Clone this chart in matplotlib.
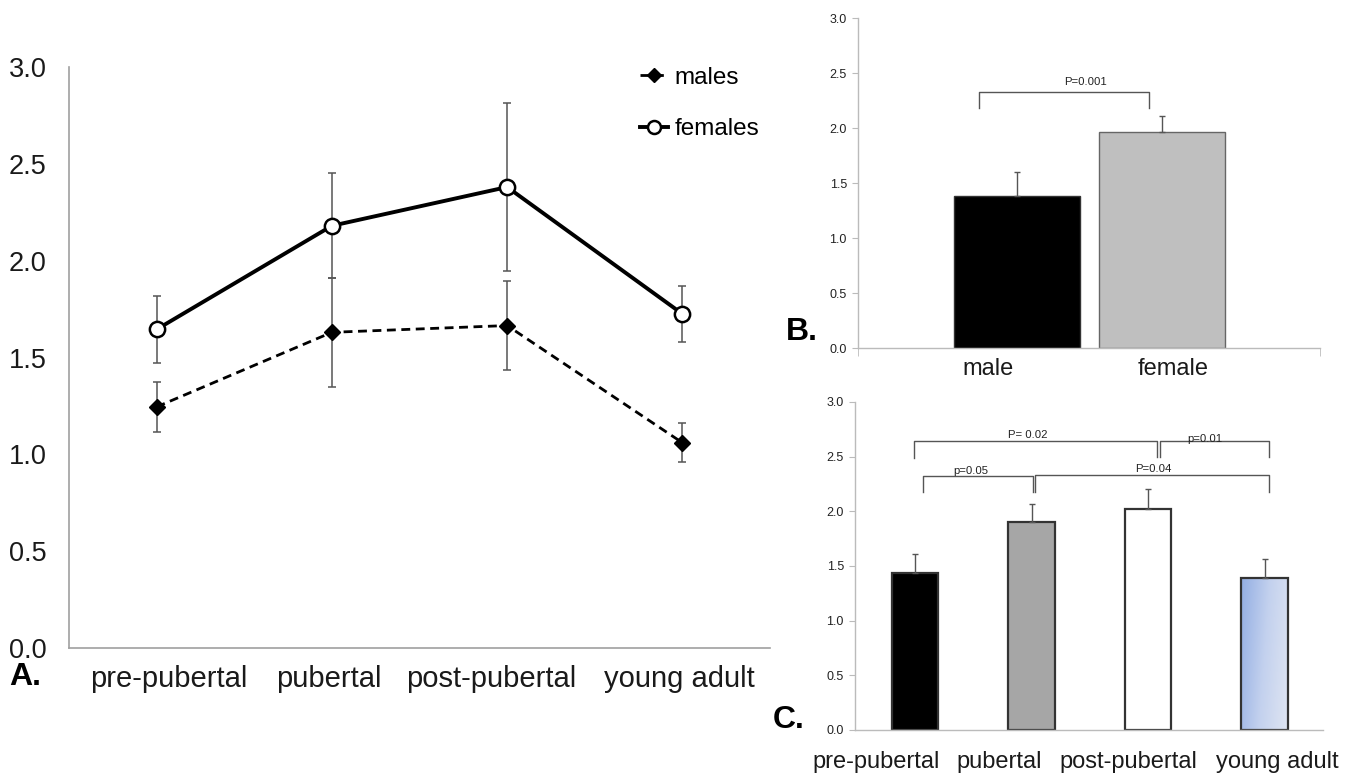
import numpy as np
import matplotlib
matplotlib.use("Agg")
import matplotlib.pyplot as plt
from matplotlib.colors import LinearSegmentedColormap

plt.rcParams['font.family'] = ['Liberation Sans', 'DejaVu Sans']

# ---------------- data ----------------
stages = ["pre-pubertal", "pubertal", "post-pubertal", "young adult"]
males_mean = [1.245, 1.63, 1.665, 1.06]
males_err = [0.13, 0.28, 0.23, 0.10]
females_mean = [1.645, 2.18, 2.38, 1.725]
females_err = [0.175, 0.27, 0.435, 0.145]

sex_labels = ["male", "female"]
sex_mean = [1.385, 1.965]
sex_err = [0.215, 0.145]

stage_mean = [1.44, 1.90, 2.025, 1.39]
stage_err = [0.17, 0.17, 0.175, 0.17]

AX_GRAY = "#a0a0a0"
ERR_GRAY = "#555555"

fig = plt.figure(figsize=(13.6, 7.76), dpi=100)

# ---------------- Panel A ----------------
axA = fig.add_axes([0.0507, 0.1649, 0.5155, 0.7488])
x = np.arange(len(stages))
axA.errorbar(x, females_mean, yerr=females_err, fmt='none', ecolor=ERR_GRAY,
             elinewidth=1.1, capsize=3, capthick=1.1, zorder=2)
axA.errorbar(x, males_mean, yerr=males_err, fmt='none', ecolor=ERR_GRAY,
             elinewidth=1.1, capsize=3, capthick=1.1, zorder=2)
axA.plot(x, males_mean, linestyle=(0, (3.2, 2.0)), color='black', lw=2.0,
         marker='D', markersize=8.5, markerfacecolor='black',
         markeredgecolor='black', label='males', zorder=3)
axA.plot(x, females_mean, linestyle='-', color='black', lw=2.8,
         marker='o', markersize=11, markerfacecolor='white',
         markeredgecolor='black', markeredgewidth=1.8, label='females', zorder=3)
axA.set_xlim(-0.5, 3.5)
axA.set_ylim(0, 3.0)
axA.set_yticks(np.arange(0, 3.01, 0.5))
axA.set_yticklabels([f"{v:.1f}" for v in np.arange(0, 3.01, 0.5)])
axA.set_xticks(x + np.array([0.07, -0.02, -0.09, -0.02]))
axA.set_xticklabels(stages)
for s in ['top', 'right']:
    axA.spines[s].set_visible(False)
for s in ['left', 'bottom']:
    axA.spines[s].set_color(AX_GRAY)
    axA.spines[s].set_linewidth(1.2)
axA.tick_params(axis='y', length=0, pad=16, labelsize=19.5, labelcolor='#1a1a1a')
axA.tick_params(axis='x', length=0, pad=12, labelsize=21, labelcolor='#1a1a1a')
leg = axA.legend(loc='upper left', bbox_to_anchor=(0.814, 1.0), frameon=False,
                 fontsize=17.5, handlelength=1.15, handletextpad=0.3,
                 labelspacing=1.2, borderpad=0, borderaxespad=0, numpoints=1,
                 markerscale=0.85)
fig.text(0.007, 0.127, "A.", fontsize=23, fontweight='bold', va='center', ha='left')

# ---------------- Panel B ----------------
axB = fig.add_axes([0.6309, 0.5515, 0.3397, 0.4253])
xb = np.arange(len(sex_labels))
axB.bar(xb, sex_mean, width=0.87, color=['black', '#bfbfbf'],
        edgecolor=['#333333', '#666666'], linewidth=1.0, zorder=2)
axB.errorbar(xb, sex_mean, yerr=[[0, 0], sex_err], fmt='none', ecolor=ERR_GRAY,
             elinewidth=1.0, capsize=2.5, capthick=1.0, zorder=3)
axB.set_xlim(-1.097, 2.09)
axB.set_ylim(0, 3.0)
axB.set_yticks(np.arange(0, 3.01, 0.5))
axB.set_yticklabels([f"{v:.1f}" for v in np.arange(0, 3.01, 0.5)])
axB.set_xticks(xb + np.array([-0.2, 0.08]))
axB.set_xticklabels(sex_labels)
axB.set_xticks([-1.097, 2.09], minor=True)
for s in ['top', 'right']:
    axB.spines[s].set_visible(False)
for s in ['left', 'bottom']:
    axB.spines[s].set_color('#bbbbbb')
    axB.spines[s].set_linewidth(1.0)
axB.tick_params(axis='y', length=4, color='#bbbbbb', pad=4, labelsize=9, labelcolor='#222222')
axB.tick_params(axis='x', which='major', length=0, pad=7, labelsize=17, labelcolor='#1a1a1a')
axB.tick_params(axis='x', which='minor', length=6, color='#bbbbbb')


def bracket(ax, x1, x2, ytop, yleg1, yleg2, text, tx, ty, fs=8.2):
    ax.plot([x1, x1, x2, x2], [yleg1, ytop, ytop, yleg2], color=ERR_GRAY,
            lw=1.0, solid_joinstyle='round', zorder=4)
    ax.text(tx, ty, text, fontsize=fs, ha='center', va='center', color='#222222', zorder=5)


bracket(axB, -0.26, 0.91, 2.33, 2.18, 2.18, "P=0.001", 0.47, 2.42)
fig.text(0.578, 0.572, "B.", fontsize=23, fontweight='bold', va='center', ha='left')

# ---------------- Panel C ----------------
axC = fig.add_axes([0.6287, 0.0593, 0.3441, 0.4227])
xc = np.arange(len(stages))
barsC = axC.bar(xc, stage_mean, width=0.40,
                color=['black', '#a6a6a6', 'white', 'none'],
                edgecolor='#333333', linewidth=1.6, zorder=2)
axC.errorbar(xc, stage_mean, yerr=[[0] * 4, stage_err], fmt='none', ecolor=ERR_GRAY,
             elinewidth=1.0, capsize=2.5, capthick=1.0, zorder=3)
# gradient fill of the last bar
gb = barsC[3]
cmap = LinearSegmentedColormap.from_list("blueg", ["#93aee3", "#c3d1ee", "#dfe5f2"])
gx, gy = np.meshgrid(np.linspace(0, 1, 64), np.linspace(0, 1, 64))
grad = 0.8 * gx + 0.2 * gy
im = axC.imshow(grad, cmap=cmap, aspect='auto', origin='upper',
                extent=[gb.get_x(), gb.get_x() + gb.get_width(), 0, gb.get_height()],
                zorder=1.5, interpolation='bilinear')
im.set_clip_path(gb)
axC.set_xlim(-0.515, 3.5)
axC.set_ylim(0, 3.0)
axC.set_yticks(np.arange(0, 3.01, 0.5))
axC.set_yticklabels([f"{v:.1f}" for v in np.arange(0, 3.01, 0.5)])
axC.set_xticks(xc + np.array([-0.33, -0.28, -0.17, 0.11]))
axC.set_xticklabels(stages)
for s in ['top', 'right']:
    axC.spines[s].set_visible(False)
for s in ['left', 'bottom']:
    axC.spines[s].set_color('#bbbbbb')
    axC.spines[s].set_linewidth(1.0)
axC.tick_params(axis='y', length=4, color='#bbbbbb', pad=4, labelsize=9, labelcolor='#222222')
axC.tick_params(axis='x', length=0, pad=15, labelsize=17, labelcolor='#1a1a1a')

bracket(axC, -0.01, 2.08, 2.64, 2.49, 2.50, "P= 0.02", 0.97, 2.70)
bracket(axC, 2.10, 3.04, 2.64, 2.50, 2.50, "p=0.01", 2.49, 2.665)
bracket(axC, 0.07, 1.01, 2.32, 2.18, 2.18, "p=0.05", 0.48, 2.365)
bracket(axC, 1.03, 3.04, 2.33, 2.18, 2.18, "P=0.04", 2.04, 2.385)
fig.text(0.568, 0.072, "C.", fontsize=23, fontweight='bold', va='center', ha='left')

fig.savefig("out.png", dpi=100)
